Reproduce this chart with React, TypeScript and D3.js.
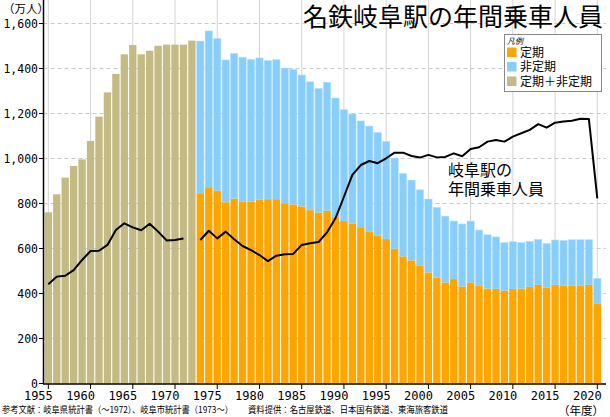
import React from "react";
import * as d3 from "d3";

const years: number[] = d3.range(1955, 2021);

// 定期＋非定期 (total, 万人)
const totalRiders: number[] = [
  761, 841, 915, 967, 996, 1078, 1186, 1294, 1376, 1463, 1504, 1463, 1479, 1501, 1506, 1506, 1506, 1524,
  1522, 1567, 1534, 1438, 1467, 1450, 1441, 1447, 1435, 1439, 1402, 1396, 1371, 1341, 1312, 1339, 1269, 1217,
  1198, 1167, 1144, 1116, 1076, 1002, 934, 904, 861, 820, 783, 744, 722, 709, 722, 682, 661, 652,
  626, 630, 627, 632, 641, 623, 638, 636, 639, 639, 639, 467,
];

// 定期 (commuter pass, from 1973)
const teikiRiders: (number | null)[] = [
  null, null, null, null, null, null, null, null, null, null, null, null, null, null, null, null, null, null,
  845, 872, 856, 805, 821, 808, 807, 816, 819, 819, 801, 795, 786, 770, 759, 767, 739, 722,
  709, 694, 673, 657, 642, 598, 564, 546, 524, 493, 469, 448, 464, 430, 448, 433, 421, 420,
  412, 420, 421, 429, 438, 426, 438, 433, 433, 433, 438, 353,
];

// 岐阜駅の年間乗車人員 (line)
const gifuStation: (number | null)[] = [
  441, 475, 479, 504, 549, 589, 590, 616, 682, 712, 694, 681, 710, 675, 636, 638, 644, null,
  638, 679, 645, 675, 641, 611, 593, 571, 544, 568, 574, 576, 616, 623, 629, 672, 734, 830,
  927, 971, 989, 979, 1001, 1026, 1026, 1011, 1004, 1016, 1005, 1007, 1023, 1010, 1042, 1050, 1075, 1082,
  1075, 1097, 1112, 1127, 1153, 1137, 1159, 1164, 1168, 1177, 1176, 823,
];

const yTicks: number[] = [0, 200, 400, 600, 800, 1000, 1200, 1400, 1600];
const xTickYears: number[] = d3.range(1955, 2021, 5);

const legendItems = [
  { label: "定期", color: "#FFA500" },
  { label: "非定期", color: "#87CEFA" },
  { label: "定期＋非定期", color: "#C4BA83" },
];

const COLOR_TEIKI = "#FFA500";
const COLOR_HITEIKI = "#87CEFA";
const COLOR_TOTAL = "#C4BA83";

const W = 610;
const H = 417;
const step = 8.446;
const x0 = 44.1;

export default function App() {
  const x = d3
    .scaleBand<number>()
    .domain(years)
    .range([x0, x0 + years.length * step])
    .paddingInner(0.13)
    .paddingOuter(0.065);
  const y = d3.scaleLinear().domain([0, 1600]).range([383.5, 23.5]);
  const cx = (yr: number) => (x(yr) as number) + x.bandwidth() / 2;

  const line = d3
    .line<number | null>()
    .defined((d) => d !== null)
    .x((_, i) => cx(years[i]))
    .y((d) => y(d as number));

  const mono = "'DejaVu Sans Mono', monospace";
  const jp = "'Noto Sans CJK JP', 'Noto Sans', sans-serif";
  const right = 606;

  return (
    <svg width={W} height={H} style={{ position: "absolute", left: 0, top: 0, background: "#fff" }}>
      {/* grid */}
      {yTicks.filter((t) => t > 0).map((t) => (
        <line key={"hg" + t} x1={43.5} x2={right} y1={y(t)} y2={y(t)} stroke="#c8c8c8" strokeDasharray="4,3" strokeWidth={1} />
      ))}
      {xTickYears.map((yr) => (
        <line key={"vg" + yr} x1={cx(yr)} x2={cx(yr)} y1={0} y2={383.5} stroke="#d4d4d4" strokeWidth={1} />
      ))}

      {/* bars */}
      {years.map((yr, i) => {
        const tk = teikiRiders[i];
        const bx = x(yr) as number;
        const bw = x.bandwidth();
        if (tk === null) {
          return (
            <rect key={"b" + yr} x={bx} y={y(totalRiders[i])} width={bw} height={y(0) - y(totalRiders[i])} fill={COLOR_TOTAL} />
          );
        }
        return (
          <g key={"b" + yr}>
            <rect x={bx} y={y(totalRiders[i])} width={bw} height={y(tk) - y(totalRiders[i])} fill={COLOR_HITEIKI} stroke="#b8e2fb" strokeWidth={0.6} />
            <rect x={bx} y={y(tk)} width={bw} height={y(0) - y(tk)} fill={COLOR_TEIKI} />
          </g>
        );
      })}

      {/* station line */}
      <path d={line(gifuStation) || ""} fill="none" stroke="#000" strokeWidth={2} strokeLinejoin="round" />

      {/* axes */}
      <line x1={43.5} x2={43.5} y1={0} y2={384} stroke="#000" strokeWidth={1.5} />
      <line x1={43} x2={right} y1={384} y2={384} stroke="#000" strokeWidth={1.5} />
      {yTicks.map((t) => (
        <g key={"yt" + t}>
          <line x1={39} x2={43.5} y1={y(t)} y2={y(t)} stroke="#000" strokeWidth={1} />
          <text x={38} y={y(t) + 4} textAnchor="end" fontFamily={mono} fontSize={11.5} fill="#000">
            {d3.format(",")(t)}
          </text>
        </g>
      ))}
      {xTickYears.map((yr) => (
        <g key={"xt" + yr}>
          <line x1={cx(yr)} x2={cx(yr)} y1={384} y2={389} stroke="#000" strokeWidth={1} />
          <text x={cx(yr) + 4.5} y={400} textAnchor="end" fontFamily={mono} fontSize={12} fill="#000">
            {yr}
          </text>
        </g>
      ))}

      {/* labels */}
      <text x={3} y={13} fontFamily={jp} fontSize={11.5} fill="#000">（万人）</text>
      <text x={604} y={415} textAnchor="end" fontFamily={jp} fontSize={11.5} fill="#000">（年度）</text>
      <text x={603} y={25.5} textAnchor="end" fontFamily={jp} fontSize={25} fill="#000">名鉄岐阜駅の年間乗車人員</text>
      <text x={448} y={176} fontFamily={jp} fontSize={16} fill="#000">
        <tspan x={448}>岐阜駅の</tspan>
        <tspan x={448} dy={18.5}>年間乗車人員</tspan>
      </text>
      <text x={2} y={413} fontFamily={jp} fontSize={9} fill="#000" textLength={231} lengthAdjust="spacingAndGlyphs">
        参考文献：岐阜県統計書（～1972）、岐阜市統計書（1973～）
      </text>
      <text x={248} y={413} fontFamily={jp} fontSize={9} fill="#000" textLength={200} lengthAdjust="spacingAndGlyphs">
        資料提供：名古屋鉄道、日本国有鉄道、東海旅客鉄道
      </text>

      {/* legend */}
      <g>
        <rect x={504.5} y={34.5} width={97} height={57} fill="#fff" stroke="#888" strokeWidth={1} />
        <text x={507} y={44} fontFamily={jp} fontSize={8} fontStyle="italic" fill="#000">凡例</text>
        {legendItems.map((it, i) => (
          <g key={it.label}>
            <rect x={507} y={47.5 + i * 14.5} width={9.5} height={9.5} fill={it.color} />
            <text x={520} y={56.5 + i * 14.5} fontFamily={jp} fontSize={12} fill="#000">{it.label}</text>
          </g>
        ))}
      </g>
    </svg>
  );
}
